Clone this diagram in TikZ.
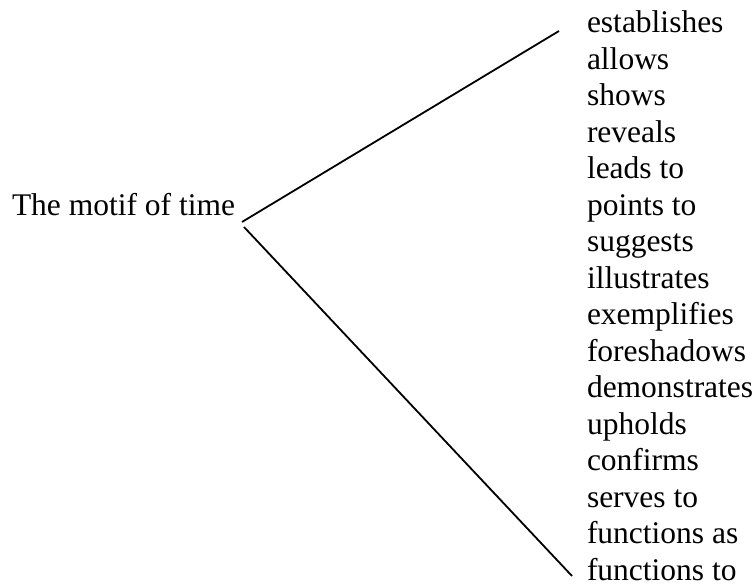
\documentclass[tikz,border=0pt]{standalone}
\usepackage{fontspec}
\setmainfont{Liberation Serif}
\begin{document}
\begin{tikzpicture}[x=0.5pt,y=-0.5pt,
  lbl/.style={anchor=base west,inner sep=0pt,outer sep=0pt,font=\fontsize{15.75}{18}\selectfont},
  conn/.style={draw=black,line width=0.9pt}]
\useasboundingbox (0,0) rectangle (755,588);
\node[lbl] (t) at (12,216) {The motif of time};
\foreach \w [count=\i from 0] in {establishes,allows,shows,reveals,leads to,points to,suggests,illustrates,exemplifies,foreshadows,demonstrates,upholds,confirms,serves to,functions as,functions to}{
  \node[lbl] (w\i) at (587,33+\i*36.47) {\w};
}
\coordinate (v1) at (242,222);
\coordinate (e1) at (559,31);
\coordinate (v2) at (244,227);
\coordinate (e2) at (572,576);
\draw[conn] (v1) -- (e1);
\draw[conn] (v2) -- (e2);
\end{tikzpicture}
\end{document}
